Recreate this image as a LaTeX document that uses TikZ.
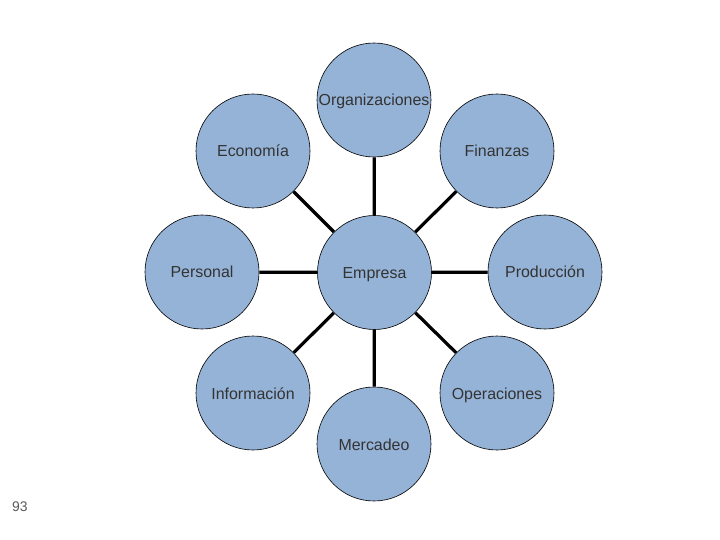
\documentclass[tikz,border=0pt]{standalone}
\usepackage{fontspec}
\setmainfont{Liberation Sans}
\definecolor{circfill}{HTML}{95B3D7}
\definecolor{numgray}{HTML}{595959}
\begin{document}
\begin{tikzpicture}[x=1bp,y=-1bp,
  bubble/.style={circle,draw=black,line width=0.6bp,fill=circfill,minimum size=114bp,inner sep=0pt,
    font=\fontsize{16}{18}\selectfont,text=black!80,text height=12.5bp,text depth=0.5bp},
  link/.style={line width=3.2bp,draw=black}]
\useasboundingbox (0,0) rectangle (720,540);
\node[bubble] (org) at (374,100) {Organizaciones};
\node[bubble] (eco) at (253,151) {Economía};
\node[bubble] (fin) at (497,151) {Finanzas};
\node[bubble] (per) at (202,272) {Personal};
\node[bubble] (emp) at (374.5,272.5) {Empresa};
\node[bubble] (pro) at (545,272) {Producción};
\node[bubble] (inf) at (253,393) {Información};
\node[bubble] (ope) at (497,393) {Operaciones};
\node[bubble] (mer) at (374,444) {Mercadeo};
\foreach \n in {org,eco,fin,per,pro,inf,ope,mer}
  \draw[link] (emp) -- (\n);
\node[text=numgray,font=\fontsize{14}{16}\selectfont] (num) at (20,507) {93};
\end{tikzpicture}
\end{document}
